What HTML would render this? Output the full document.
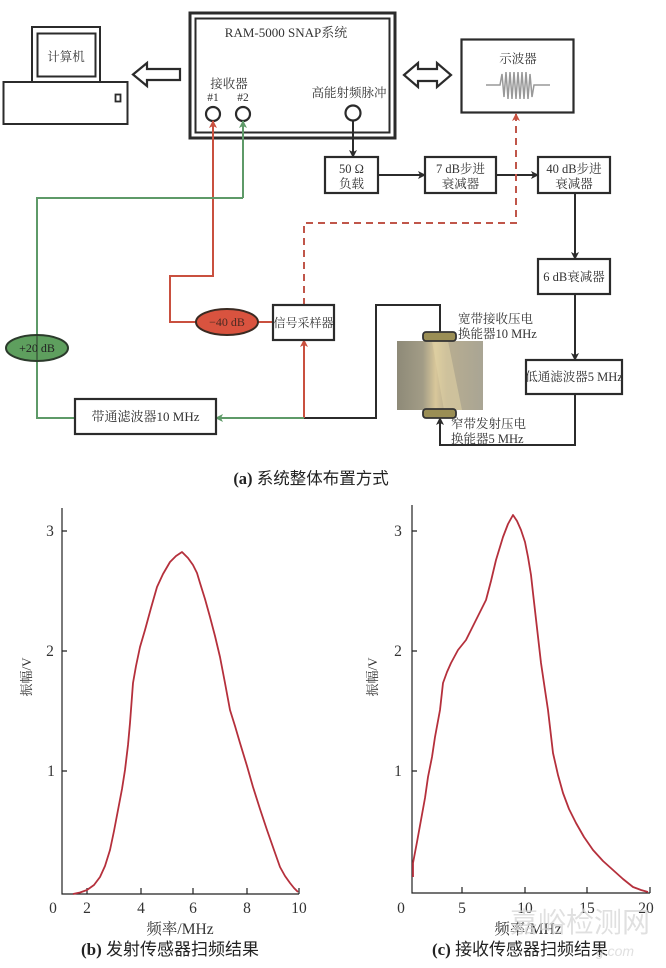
<!DOCTYPE html>
<html><head><meta charset="utf-8">
<style>
html,body{margin:0;padding:0;background:#fff;}
svg{display:block;}
.s{font-family:"Liberation Serif","Noto Serif CJK SC",serif;fill:#333;}
.c{font-family:"Liberation Serif","Noto Sans CJK SC",sans-serif;fill:#222;}
.w{font-family:"Liberation Sans","Noto Sans CJK SC",sans-serif;fill:#d6d6d6;opacity:0.75;}
</style></head><body>
<svg width="666" height="968" viewBox="0 0 666 968" xmlns="http://www.w3.org/2000/svg">
<defs>
<marker id="ab" markerWidth="8" markerHeight="8" refX="7" refY="4" orient="auto" markerUnits="userSpaceOnUse"><path d="M0,0 L8,4 L0,8 L2,4 z" fill="#2b2b2b"/></marker>
<marker id="ar" markerWidth="8" markerHeight="8" refX="7" refY="4" orient="auto" markerUnits="userSpaceOnUse"><path d="M0,0 L8,4 L0,8 L2,4 z" fill="#c9503f"/></marker>
<marker id="ag" markerWidth="8" markerHeight="8" refX="7" refY="4" orient="auto" markerUnits="userSpaceOnUse"><path d="M0,0 L8,4 L0,8 L2,4 z" fill="#5e9a68"/></marker>
<linearGradient id="spec" x1="0" y1="0" x2="1" y2="0">
<stop offset="0" stop-color="#8e8a78"/>
<stop offset="0.3" stop-color="#a29c86"/>
<stop offset="0.45" stop-color="#d8c79a"/>
<stop offset="0.58" stop-color="#b8ad90"/>
<stop offset="1" stop-color="#a9a594"/>
</linearGradient>
</defs>

<!-- Computer -->
<rect x="32" y="27" width="68" height="55" fill="#fff" stroke="#2b2b2b" stroke-width="2"/>
<rect x="37.5" y="33.5" width="58" height="43" fill="#fff" stroke="#2b2b2b" stroke-width="2"/>
<text x="66" y="61" class="s" font-size="12.5" text-anchor="middle">计算机</text>
<rect x="3.5" y="82" width="124" height="42" fill="#fff" stroke="#2b2b2b" stroke-width="2"/>
<rect x="115.5" y="94.5" width="5" height="7" fill="#fff" stroke="#2b2b2b" stroke-width="1.8"/>

<!-- Hollow left arrow -->
<polygon points="133,74.5 147,63 147,69 180,69 180,80 147,80 147,86" fill="#fff" stroke="#2b2b2b" stroke-width="2.2" stroke-linejoin="miter"/>

<!-- RAM box -->
<rect x="190" y="13" width="205" height="125" fill="#fff" stroke="#2b2b2b" stroke-width="3"/>
<rect x="195.5" y="18.5" width="194" height="114" fill="none" stroke="#2b2b2b" stroke-width="2"/>
<text x="286" y="37" class="s" font-size="13" text-anchor="middle">RAM-5000 SNAP系统</text>
<text x="229" y="88" class="s" font-size="12.5" text-anchor="middle">接收器</text>
<text x="213" y="101" class="s" font-size="11.5" text-anchor="middle">#1</text>
<text x="243" y="101" class="s" font-size="11.5" text-anchor="middle">#2</text>
<text x="349" y="97" class="s" font-size="12.5" text-anchor="middle">高能射频脉冲</text>
<circle cx="213" cy="114" r="7" fill="#fff" stroke="#2b2b2b" stroke-width="2.2"/>
<circle cx="243" cy="114" r="7" fill="#fff" stroke="#2b2b2b" stroke-width="2.2"/>
<circle cx="353" cy="113" r="7.5" fill="#fff" stroke="#2b2b2b" stroke-width="2.2"/>

<!-- Double arrow -->
<polygon points="404,75 418,63 418,69 437,69 437,63 451,75 437,87 437,81 418,81 418,87" fill="#fff" stroke="#2b2b2b" stroke-width="2.2"/>

<!-- Oscilloscope -->
<rect x="461.5" y="39.5" width="112" height="73" fill="#fff" stroke="#2b2b2b" stroke-width="2.2"/>
<text x="518" y="63" class="s" font-size="12.5" text-anchor="middle">示波器</text>
<path d="M486,85 L500,85 L502,74 L504,97 L506,72 L508,99 L510,72 L512,99 L514,72 L516,99 L518,72 L520,99 L522,72 L524,99 L526,72 L528,99 L530,74 L532,97 L534,85 L550,85" fill="none" stroke="#999" stroke-width="1.5"/>

<!-- boxes chain -->
<rect x="325" y="157" width="53" height="36" fill="#fff" stroke="#2b2b2b" stroke-width="2.2"/>
<text x="351.5" y="173" class="s" font-size="12.5" text-anchor="middle">50 Ω</text>
<text x="351.5" y="188" class="s" font-size="12.5" text-anchor="middle">负载</text>
<rect x="425" y="157" width="71" height="36" fill="#fff" stroke="#2b2b2b" stroke-width="2.2"/>
<text x="460.5" y="173" class="s" font-size="12.5" text-anchor="middle">7 dB步进</text>
<text x="460.5" y="188" class="s" font-size="12.5" text-anchor="middle">衰减器</text>
<rect x="538" y="157" width="72" height="36" fill="#fff" stroke="#2b2b2b" stroke-width="2.2"/>
<text x="574" y="173" class="s" font-size="12.5" text-anchor="middle">40 dB步进</text>
<text x="574" y="188" class="s" font-size="12.5" text-anchor="middle">衰减器</text>
<rect x="538" y="259" width="72" height="35" fill="#fff" stroke="#2b2b2b" stroke-width="2.2"/>
<text x="574" y="281" class="s" font-size="12.5" text-anchor="middle">6 dB衰减器</text>
<rect x="526" y="360" width="96" height="34" fill="#fff" stroke="#2b2b2b" stroke-width="2.2"/>
<text x="574" y="381" class="s" font-size="12.5" text-anchor="middle">低通滤波器5 MHz</text>

<!-- black connectors -->
<path d="M353,121 V157" fill="none" stroke="#2b2b2b" stroke-width="2" marker-end="url(#ab)"/>
<path d="M378,175 H425" fill="none" stroke="#2b2b2b" stroke-width="2" marker-end="url(#ab)"/>
<path d="M496,175 H538" fill="none" stroke="#2b2b2b" stroke-width="2" marker-end="url(#ab)"/>
<path d="M575,193 V259" fill="none" stroke="#2b2b2b" stroke-width="2" marker-end="url(#ab)"/>
<path d="M575,294 V360" fill="none" stroke="#2b2b2b" stroke-width="2" marker-end="url(#ab)"/>
<path d="M575,394 V445 H440 V418" fill="none" stroke="#2b2b2b" stroke-width="2" marker-end="url(#ab)"/>
<path d="M304,418 H376 V305 H440 V332" fill="none" stroke="#2b2b2b" stroke-width="2"/>

<!-- red dashed -->
<path d="M304,305 V223 H516 V114" fill="none" stroke="#c0564a" stroke-width="2" stroke-dasharray="7,5" marker-end="url(#ar)"/>

<!-- red solid -->
<path d="M273,322 H258" fill="none" stroke="#c9503f" stroke-width="2"/>
<path d="M196,322 H170 V276 H213 V121" fill="none" stroke="#c9503f" stroke-width="2" marker-end="url(#ar)"/>
<path d="M304,418 V340" fill="none" stroke="#c9503f" stroke-width="2" marker-end="url(#ar)"/>

<!-- green -->
<path d="M243,198 V121" fill="none" stroke="#5e9a68" stroke-width="2" marker-end="url(#ag)"/>
<path d="M243,198 H37 V418 H75" fill="none" stroke="#5e9a68" stroke-width="2"/>
<path d="M304,418 H216" fill="none" stroke="#5e9a68" stroke-width="2" marker-end="url(#ag)"/>

<!-- ellipses -->
<ellipse cx="227" cy="322" rx="31" ry="13" fill="#d9533f" stroke="#3a2a22" stroke-width="2"/>
<text x="227" y="326" class="s" font-size="12" text-anchor="middle" style="fill:#4a2a22">−40 dB</text>
<ellipse cx="37" cy="348" rx="31" ry="13" fill="#5e9f5e" stroke="#2b3a2b" stroke-width="2"/>
<line x1="37" y1="335" x2="37" y2="361" stroke="#2b3a2b" stroke-width="1"/>
<text x="37" y="352" class="s" font-size="12" text-anchor="middle" style="fill:#222">+20 dB</text>

<!-- sampler box -->
<rect x="273" y="305" width="61" height="35" fill="#fff" stroke="#2b2b2b" stroke-width="2.2"/>
<text x="303.5" y="327" class="s" font-size="12" text-anchor="middle">信号采样器</text>

<!-- bandpass -->
<rect x="75" y="399" width="141" height="35" fill="#fff" stroke="#2b2b2b" stroke-width="2.2"/>
<text x="145.5" y="421" class="s" font-size="13" text-anchor="middle">带通滤波器10 MHz</text>

<!-- specimen -->
<rect x="397" y="341" width="86" height="69" fill="url(#spec)"/>
<polygon points="432,341 448,341 462,410 444,410" fill="#e2d4a6" opacity="0.55"/>
<rect x="423" y="332" width="33" height="9" rx="3" fill="#9a8e55" stroke="#333" stroke-width="1.8"/>
<rect x="423" y="409" width="33" height="9" rx="3" fill="#9a8e55" stroke="#333" stroke-width="1.8"/>
<text x="458" y="323" class="s" font-size="12.5">宽带接收压电</text>
<text x="458" y="338" class="s" font-size="12.5">换能器10 MHz</text>
<text x="451" y="428" class="s" font-size="12.5">窄带发射压电</text>
<text x="451" y="443" class="s" font-size="12.5">换能器5 MHz</text>

<!-- caption a -->
<text x="311" y="484" class="c" font-size="16.5" text-anchor="middle"><tspan font-weight="bold">(a)</tspan> 系统整体布置方式</text>

<!-- Chart b -->
<g stroke="#222" stroke-width="1.2" fill="none">
<path d="M62,508 V894 H299"/>
<path d="M62,531 h5 M62,651 h5 M62,771 h5"/>
<path d="M87,894 v-6 M141,894 v-6 M193,894 v-6 M247,894 v-6 M299,894 v-6"/>
</g>
<g class="s" font-size="15.5" text-anchor="middle" style="fill:#333">
<text x="50" y="536">3</text><text x="50" y="656">2</text><text x="51" y="776">1</text>
<text x="53" y="913">0</text><text x="87" y="913">2</text><text x="141" y="913">4</text><text x="193" y="913">6</text><text x="247" y="913">8</text><text x="299" y="913">10</text>
<text x="180" y="934">频率/MHz</text>
</g>
<text transform="translate(31,677) rotate(-90)" class="s" font-size="13" text-anchor="middle">振幅/V</text>
<path d="M73,894 L80,892.5 L87,890 L94,885 L100,877 L105,866 L110,850 L114,831 L118,810 L122,789 L125,770 L128,745 L130,723 L133,683 L136,666 L140,647 L145,630 L151,608 L157,587 L163,574 L170,562 L176,556 L182,552 L188,558 L193,565 L197,573 L200,583 L205,599 L210,617 L215,636 L220,657 L225,683 L230,710 L235,726 L240,743 L247,766 L253,787 L260,809 L267,830 L274,850 L280,867 L285,876 L290,883 L294,888 L298,892" fill="none" stroke="#b5303c" stroke-width="1.8" stroke-linejoin="round"/>
<text x="170" y="955" class="c" font-size="17" text-anchor="middle"><tspan font-weight="bold">(b)</tspan> 发射传感器扫频结果</text>

<!-- Chart c -->
<g stroke="#222" stroke-width="1.2" fill="none">
<path d="M412,505 V893 H650"/>
<path d="M412,531 h5 M412,651 h5 M412,771 h5"/>
<path d="M462,893 v-6 M525,893 v-6 M587,893 v-6 M650,893 v-6"/>
</g>
<g class="s" font-size="15.5" text-anchor="middle" style="fill:#333">
<text x="398" y="536">3</text><text x="398" y="656">2</text><text x="398" y="776">1</text>
<text x="401" y="913">0</text><text x="462" y="913">5</text><text x="525" y="913">10</text><text x="587" y="913">15</text><text x="646" y="913">20</text>
<text x="528" y="934">频率/MHz</text>
</g>
<text transform="translate(377,677) rotate(-90)" class="s" font-size="13" text-anchor="middle">振幅/V</text>
<path d="M413,877 L413,863 L417,842 L421,820 L425,798 L428,777 L432,757 L435,737 L440,710 L443,683 L447,672 L451,663 L458,650 L466,640 L471,630 L476,620 L486,600 L491,581 L496,560 L503,537 L508,524 L513,515 L517,521 L521,530 L525,542 L528,557 L531,575 L533,593 L537,628 L541,663 L545,690 L548,710 L553,753 L558,775 L563,793 L569,809 L576,823 L584,837 L593,850 L603,861 L613,870 L623,879 L633,887 L641,890 L648,892" fill="none" stroke="#b5303c" stroke-width="1.8" stroke-linejoin="round"/>
<text x="520" y="955" class="c" font-size="17" text-anchor="middle"><tspan font-weight="bold">(c)</tspan> 接收传感器扫频结果</text>

<!-- watermark -->
<text x="580" y="932" class="w" font-size="28" text-anchor="middle">嘉峪检测网</text>
<text x="615" y="956" class="w" font-size="14" font-style="italic" text-anchor="middle">g.com</text>
</svg>
</body></html>
